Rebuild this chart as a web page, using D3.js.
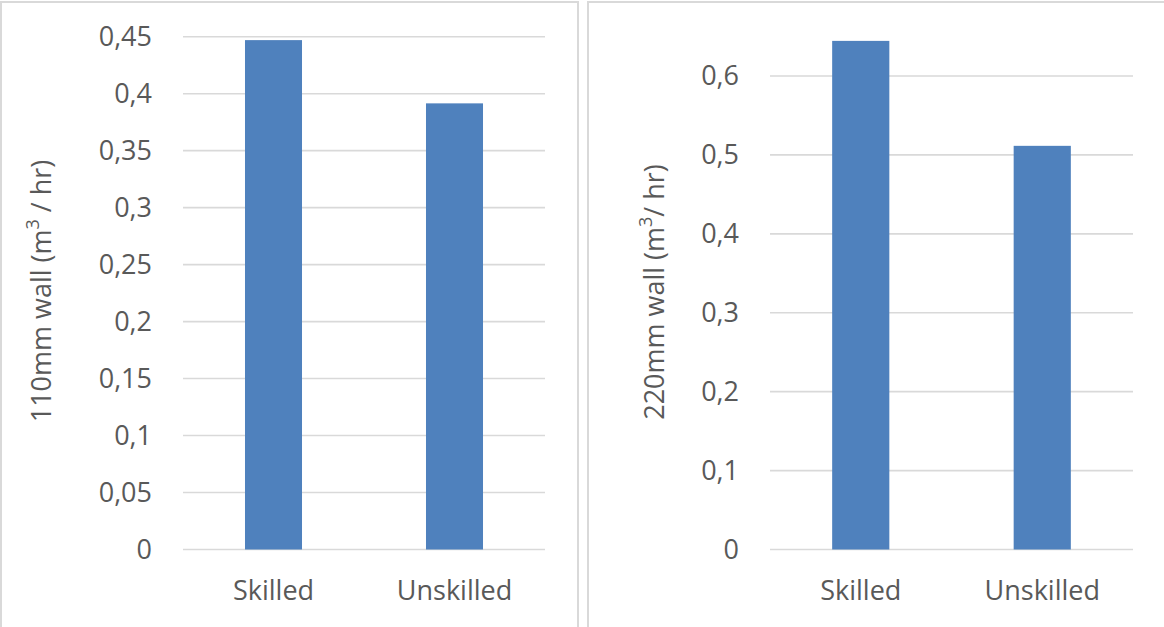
<!DOCTYPE html>
<html>
<head>
<meta charset="utf-8">
<script src="https://cdn.jsdelivr.net/npm/d3@7"></script>
<style>
  html, body { margin: 0; padding: 0; background: #fff; }
  svg { display: block; }
  text { font-family: "Open Sans", sans-serif; fill: #595959; }
</style>
</head>
<body>
<svg id="chart" width="1164" height="627"></svg>
<script>
// Bricklaying productivity by worker group
const categories = ["Skilled", "Unskilled"];
const wall110Values = [0.447, 0.3915];
const wall220Values = [0.6445, 0.5115];
const wall110Ticks = [0, 0.05, 0.1, 0.15, 0.2, 0.25, 0.3, 0.35, 0.4, 0.45];
const wall220Ticks = [0, 0.1, 0.2, 0.3, 0.4, 0.5, 0.6];
const wall110Title = ["110mm wall (m", "3", " / hr)"];
const wall220Title = ["220mm wall (m", "3", "/ hr)"];

const svg = d3.select("#chart");
const fmt = v => String(+v.toFixed(2)).replace(".", ",");

function panel(cfg) {
  const g = svg.append("g");

  // chart frame
  g.append("rect")
    .attr("x", cfg.frame[0]).attr("y", cfg.frame[1])
    .attr("width", cfg.frame[2]).attr("height", cfg.frame[3])
    .attr("fill", "none").attr("stroke", "#d9d9d9").attr("stroke-width", 2);

  const x = d3.scaleBand()
    .domain(categories)
    .range([cfg.left, cfg.right])
    .paddingInner(0.685)
    .paddingOuter(0.3425);
  const y = d3.scaleLinear()
    .domain([0, cfg.max])
    .range([cfg.bottom, cfg.top]);

  // horizontal gridlines
  g.append("g").selectAll("line")
    .data(cfg.ticks)
    .join("line")
    .attr("x1", cfg.left).attr("x2", cfg.right)
    .attr("y1", d => y(d)).attr("y2", d => y(d))
    .attr("stroke", "#d9d9d9").attr("stroke-width", 1.6);

  // y tick labels
  const yAxis = d3.axisLeft(y).tickValues(cfg.ticks).tickFormat(fmt).tickSize(0).tickPadding(0);
  const ya = g.append("g")
    .attr("transform", `translate(${cfg.left - 31},0)`)
    .call(yAxis);
  ya.select(".domain").remove();
  ya.selectAll("text")
    .attr("font-size", 27)
    .attr("fill", "#595959")
    .attr("font-family", "'Open Sans', sans-serif");

  // bars
  g.append("g").selectAll("rect")
    .data(cfg.values)
    .join("rect")
    .attr("x", (d, i) => x(categories[i]))
    .attr("width", x.bandwidth())
    .attr("y", d => y(d))
    .attr("height", d => y(0) - y(d))
    .attr("fill", "#4f81bd");

  // x category labels
  const xAxis = d3.axisBottom(x).tickSize(0).tickPadding(0);
  const xa = g.append("g")
    .attr("transform", `translate(0,${cfg.bottom + 31})`)
    .call(xAxis);
  xa.select(".domain").remove();
  xa.selectAll("text")
    .attr("font-size", 27)
    .attr("fill", "#595959")
    .attr("font-family", "'Open Sans', sans-serif");

  // rotated y title with superscript
  const t = g.append("text")
    .attr("transform", `translate(${cfg.titleX},${cfg.titleY}) rotate(-90)`)
    .attr("text-anchor", "middle")
    .attr("font-size", 27);
  t.append("tspan").text(cfg.title[0]);
  t.append("tspan").text(cfg.title[1]).attr("font-size", 18).attr("dy", -12);
  t.append("tspan").text(cfg.title[2]).attr("dy", 12);
}

panel({
  frame: [1, 2, 577, 640],
  left: 183, right: 545, top: 36.7, bottom: 549.5,
  max: 0.45, ticks: wall110Ticks, values: wall110Values,
  title: wall110Title, titleX: 51, titleY: 291
});

panel({
  frame: [588, 2, 620, 640],
  left: 770, right: 1133, top: 76, bottom: 549.5,
  max: 0.6, ticks: wall220Ticks, values: wall220Values,
  title: wall220Title, titleX: 664, titleY: 292
});
</script>
</body>
</html>
